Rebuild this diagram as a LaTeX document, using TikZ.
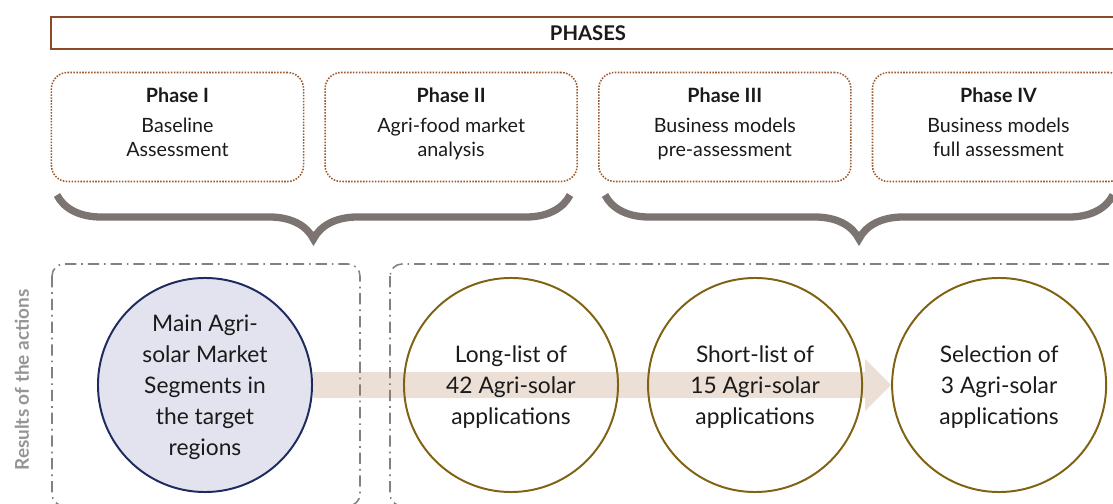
\documentclass[tikz,border=0pt]{standalone}
\usepackage{fontspec}
\setmainfont{Lato}
\usepackage{tikz}
\usetikzlibrary{shapes,arrows.meta,positioning,decorations.pathreplacing,backgrounds}

\definecolor{phasebrown}{HTML}{8B4A26}
\definecolor{dotbrown}{HTML}{9A5A30}
\definecolor{bracegray}{HTML}{7B7471}
\definecolor{framegray}{HTML}{858080}
\definecolor{labelgray}{HTML}{959595}
\definecolor{marketfill}{HTML}{E2E3EE}
\definecolor{marketline}{HTML}{1F2B5E}
\definecolor{appline}{HTML}{7F6212}
\definecolor{flowfill}{HTML}{EBDFD6}
\definecolor{textblack}{HTML}{1A1A1A}

% struts to place the text lines inside the shapes
\newcommand{\phasetop}{\rule{0pt}{12.5pt}}
\newcommand{\phasebot}{\rule[-9pt]{0pt}{9pt}}
\newcommand{\circtop}{\rule{0pt}{16.6pt}}
\newcommand{\circbot}{\rule[-4pt]{0pt}{4pt}}

\begin{document}
\begin{tikzpicture}[x=0.025cm, y=-0.025cm, text=textblack]
    	% Define block styles
    	\tikzstyle{bar} = [rectangle, draw=phasebrown, line width=1.4pt, minimum width=26.85cm, minimum height=0.8cm, font=\bfseries\fontsize{14.4}{16}\selectfont]
    	\tikzstyle{phase} = [rectangle, draw=dotbrown, line width=1.1pt, densely dotted, rounded corners=0.4cm, minimum width=6.3cm, minimum height=2.725cm, align=center, font=\fontsize{14}{17}\selectfont]
    	\tikzstyle{market} = [circle, draw=marketline, fill=marketfill, line width=1.4pt, minimum size=5.35cm, align=center, font=\fontsize{16.2}{22}\selectfont]
    	\tikzstyle{app} = [circle, draw=appline, line width=1.4pt, minimum size=5.35cm, align=center, font=\fontsize{16.2}{22}\selectfont]
    	\tikzstyle{curlybrace} = [draw=bracegray, line width=5.2pt, decorate, decoration={brace, amplitude=1.1cm, mirror}]
    	\tikzstyle{resultframe} = [draw=framegray, line width=1.1pt, dash pattern=on 8pt off 3.5pt on 1.2pt off 3.5pt, rounded corners=0.3cm]
    	\tikzstyle{flow} = [draw=flowfill, line width=0.625cm, -{Triangle[length=0.65cm, width=1.3cm, line width=0pt, fill=flowfill]}]

    	\useasboundingbox (0,0) rectangle (1113,504);

    	% Nodes
    	\node [bar] (phases) at (588,33) {PHASES};
    	\node [phase] (phase one) at (177.5,127) {\phasetop\textbf{Phase I}\\[4.25pt]Baseline\\Assessment\phasebot};
    	\node [phase, right of=phase one, node distance=6.84cm] (phase two) {\phasetop\textbf{Phase II}\\[4.25pt]Agri-food market\\analysis\phasebot};
    	\node [phase, right of=phase two, node distance=6.84cm] (phase three) {\phasetop\textbf{Phase III}\\[4.25pt]Business models\\pre-assessment\phasebot};
    	\node [phase, right of=phase three, node distance=6.84cm] (phase four) {\phasetop\textbf{Phase IV}\\[4.25pt]Business models\\full assessment\phasebot};

    	\node [rotate=90, text=labelgray, font=\bfseries\fontsize{13.5}{15}\selectfont] (results) at (22,380) {Results of the actions};
    	\node [market] (segments) at (205,385) {\circtop Main Agri-\\solar Market\\Segments in\\the target\\regions\circbot};
    	\node [app] (long list) at (511,385) {\circtop Long-list of\\42 Agri-solar\\applications\circbot};
    	\node [app, right of=long list, node distance=6.1cm] (short list) {\circtop Short-list of\\15 Agri-solar\\applications\circbot};
    	\node [app, right of=short list, node distance=6.1cm] (selection) {\circtop Selection of\\3 Agri-solar\\applications\circbot};

    	% Braces and frames
    	\draw [curlybrace] (57,195) -- (570,195);
    	\draw [curlybrace] (605,195) -- (1113,195);
    	\draw [resultframe] (52,264) rectangle (360,506);
    	\draw [resultframe] (390,264) rectangle (1125,506);

    	% Connecting lines
    	\begin{scope}[on background layer]
    		\path [flow] (segments.east) -- (selection.west);
    	\end{scope}
\end{tikzpicture}
\end{document}
